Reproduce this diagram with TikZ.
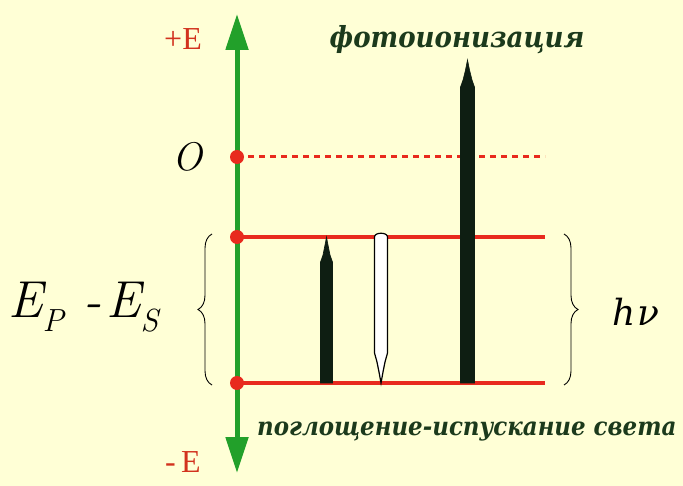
\documentclass[tikz,border=0pt]{standalone}
\usepackage{fontspec}
\setmainfont{Liberation Serif}
\newfontfamily\dvs{DejaVu Serif}
\newfontfamily\dvsc{DejaVu Serif Condensed}
\newfontfamily\lmr{Latin Modern Roman}
\usetikzlibrary{arrows.meta,decorations.pathreplacing}
\definecolor{bgc}{HTML}{FFFFD6}
\definecolor{axisg}{HTML}{22A02A}
\definecolor{lvlred}{HTML}{E82A1E}
\definecolor{txtred}{HTML}{D2321E}
\definecolor{txtgreen}{HTML}{1C3A1C}
\definecolor{barblk}{HTML}{0E1E12}
\newcommand{\lowsub}[1]{\raisebox{-0.26em}{\fontsize{32}{32}\selectfont #1}}
\begin{document}
\begin{tikzpicture}[x=1pt,y=-1pt,
  level/.style={draw=lvlred,line width=4pt},
  dotlevel/.style={draw=lvlred,line width=3pt,dash pattern=on 6pt off 5pt},
  reddot/.style={circle,fill=lvlred,inner sep=0pt,minimum size=14pt},
  brc/.style={draw=black,line width=0.9pt,decorate,decoration={brace,amplitude=14pt,aspect=0.5}},
  lab/.style={inner sep=0pt,anchor=center},
  bar/.style={fill=barblk,draw=barblk,line width=0.6pt}]
\useasboundingbox[fill=bgc] (0,0) rectangle (683,486);
% levels
\coordinate (z0) at (237,157);
\coordinate (z1) at (237,237);
\coordinate (z2) at (237,383);
\coordinate (z0e) at (545,157);
\coordinate (z1e) at (545,237);
\coordinate (z2e) at (545,383);
\draw[dotlevel] (z0) -- (z0e);
\draw[level] (z1) -- (z1e);
\draw[level] (z2) -- (z2e);
% axis
\coordinate (top) at (237,14);
\coordinate (bot) at (237,473);
\draw[axisg,line width=5pt,
  {Triangle[length=36pt,width=22pt,fill=axisg]}-{Triangle[length=36pt,width=22pt,fill=axisg]}]
  (bot) -- (top);
\node[reddot] (d0) at (z0) {};
\node[reddot] (d1) at (z1) {};
\node[reddot] (d2) at (z2) {};
% bars
\draw[bar] (320.5,383) -- (320.5,262) -- (323,255) -- (325,245) -- (326.5,237) -- (328,245) -- (330,255) -- (332.5,262) -- (332.5,383) -- cycle;
\draw[black,fill=white,line width=1.2pt] (374.5,237) .. controls (374.5,232) and (387.5,232) .. (387.5,237) -- (387.5,353) -- (385,362) -- (383,372) -- (381,383) -- (379,372) -- (377,362) -- (374.5,353) -- cycle;
\draw[bar] (460.5,383) -- (460.5,87) -- (463,80) -- (465.5,70) -- (467.5,60) -- (469.5,70) -- (472,80) -- (474.5,87) -- (474.5,383) -- cycle;
% braces
\draw[brc] (212,385) -- (212,234);
\draw[brc] (564,234) -- (564,385);
% labels
\node[lab,text=txtred,font=\fontsize{32}{32}\selectfont] (pe) at (183,39) {+E};
\node[lab,text=txtred,font=\fontsize{32}{32}\selectfont] (me) at (183,462) {-\,E};
\node[lab,font=\lmr\fontsize{40}{40}\selectfont\itshape] (o) at (187,157) {O};
\node[lab,font=\lmr\fontsize{52}{52}\selectfont\itshape,anchor=base west] (ep) at (8,318) {E\lowsub{P}\hspace{20pt}-\hspace{4pt}E\lowsub{S}};
\node[lab,font=\dvs\fontsize{36}{36}\selectfont\itshape,anchor=base west] (hn) at (612,326) {h\hspace{2pt}ν};
\node[lab,text=txtgreen,font=\dvsc\fontsize{29}{29}\selectfont\bfseries\itshape] (fi) at (457,40) {фотоионизация};
\node[lab,text=txtgreen,font=\dvsc\fontsize{25.5}{25.5}\selectfont\bfseries\itshape,anchor=west] (pis) at (257,432) {поглощение-испускание света};
\end{tikzpicture}
\end{document}
